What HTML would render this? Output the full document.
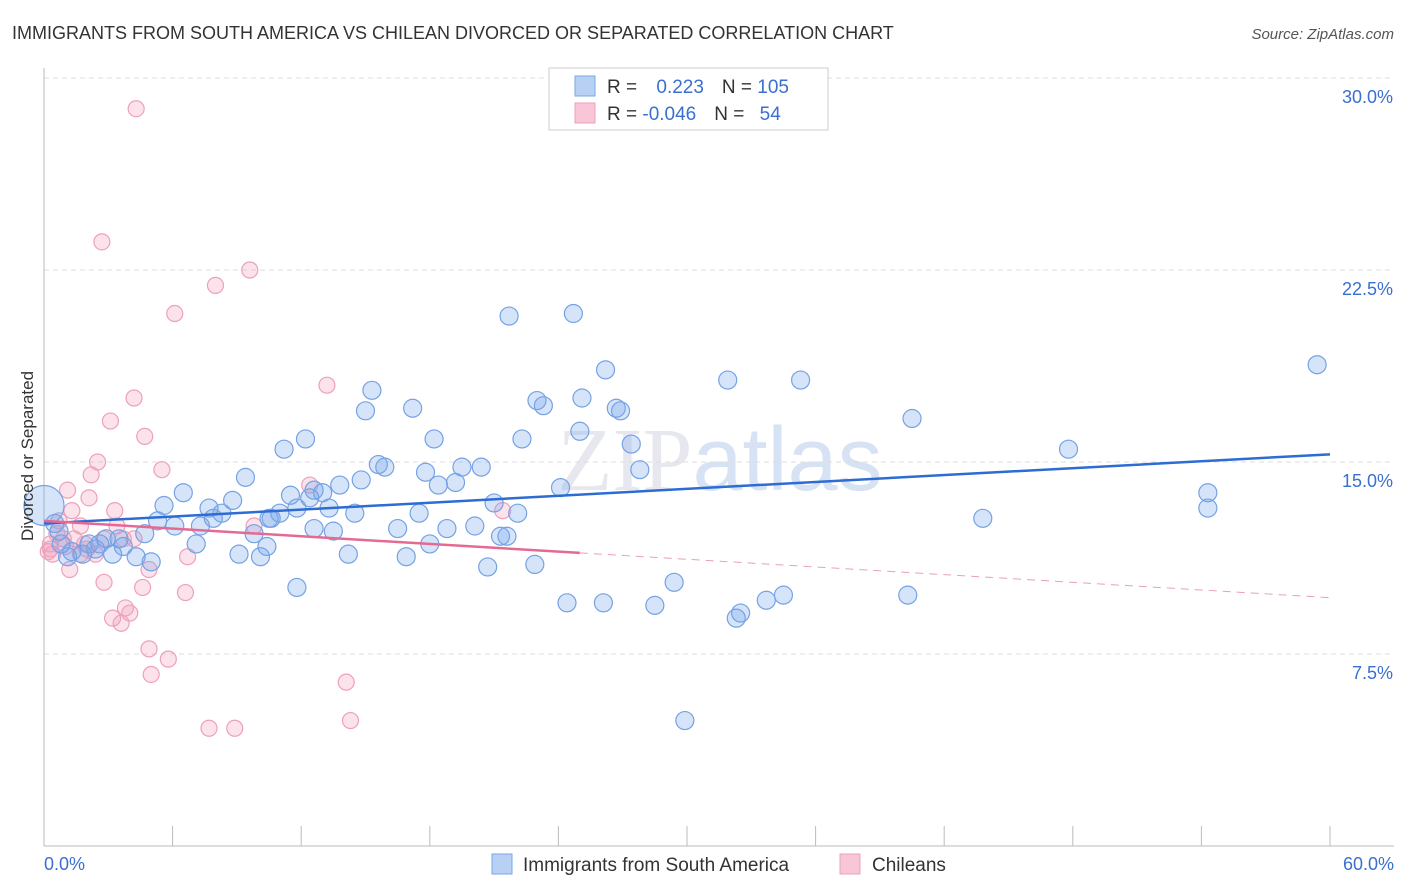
<!DOCTYPE html>
<html><head><meta charset="utf-8"><style>
body{margin:0;background:#fff;font-family:"Liberation Sans",sans-serif;}
svg{display:block}
</style></head><body>
<svg id="chart" width="1406" height="892" xmlns="http://www.w3.org/2000/svg">
<text x="12" y="39" font-size="18" fill="#333">IMMIGRANTS FROM SOUTH AMERICA VS CHILEAN DIVORCED OR SEPARATED CORRELATION CHART</text>
<text x="1394" y="39" font-size="15" fill="#555" text-anchor="end" font-style="italic">Source: ZipAtlas.com</text>
<text x="720" y="490" font-size="90" fill="#ccd" opacity="0.45" text-anchor="middle" font-family="Liberation Serif">ZIP<tspan fill="#a8c0e8" font-family="Liberation Sans">atlas</tspan></text>
<g id="grid"></g>
<g id="axes"></g>
<g id="marks"></g>
<text transform="translate(33,456) rotate(-90)" font-size="17" fill="#333" text-anchor="middle">Divorced or Separated</text>
<g>
<rect x="549" y="68" width="279" height="62" fill="#fff" stroke="#ccc"/>
<rect x="575" y="76" width="20" height="20" fill="#b8d0f4" stroke="#7aa6e6"/>
<rect x="575" y="103" width="20" height="20" fill="#f8c6d6" stroke="#eea0bb"/>
<text x="607" y="93" font-size="19" fill="#333">R = <tspan fill="#3a6fd0" dx="14">0.223</tspan><tspan dx="18" fill="#333">N = </tspan><tspan fill="#3a6fd0">105</tspan></text>
<text x="607" y="120" font-size="19" fill="#333">R = <tspan fill="#3a6fd0">-0.046</tspan><tspan dx="18" fill="#333">N = </tspan><tspan fill="#3a6fd0" dx="10">54</tspan></text>
</g>
<g>
<rect x="492" y="854" width="20" height="20" fill="#b8d0f4" stroke="#7aa6e6"/>
<text x="523" y="871" font-size="19" fill="#333">Immigrants from South America</text>
<rect x="840" y="854" width="20" height="20" fill="#f8c6d6" stroke="#eea0bb"/>
<text x="872" y="871" font-size="19" fill="#333">Chileans</text>
</g>
</svg>
<script>
const blueX=[21.7,24.7,26.2,31.9,35.3,59.4,40.5,47.8,54.3,54.3,43.8,40.3,34.5,33.7,32.5,32.3,29.4,28.5,26.1,24.4,22.9,20.7,29.9,15.3,15.0,17.2,23.0,23.3,25.1,26.7,26.9,27.4,27.8,25.0,22.3,18.2,19.5,19.2,17.8,18.4,20.4,21.0,22.1,21.3,21.6,20.1,18.8,18.0,17.5,16.5,16.9,15.6,15.9,14.8,13.8,14.5,13.5,14.2,12.2,11.2,9.4,8.8,8.3,7.7,7.9,7.3,7.1,6.5,5.6,6.1,5.3,4.7,4.3,5.0,3.7,3.5,2.9,3.2,2.4,1.8,1.3,1.1,0.8,0.5,0.7,2.1,2.6,9.1,10.1,10.4,9.8,10.6,11.0,11.5,11.8,12.4,13.0,13.3,12.6,24.1,11.8,12.6,10.5,0.0];
const blueY=[20.7,20.8,18.6,18.2,18.2,18.8,16.7,15.5,13.2,13.8,12.8,9.8,9.8,9.6,9.1,8.9,10.3,9.4,9.5,9.5,11.0,10.9,4.9,17.8,17.0,17.1,17.4,17.2,17.5,17.1,17.0,15.7,14.7,16.2,15.9,15.9,14.8,14.2,14.6,14.1,14.8,13.4,13.0,12.1,12.1,12.5,12.4,11.8,13.0,12.4,11.3,14.9,14.8,14.3,14.1,13.0,12.3,11.4,15.9,15.5,14.4,13.5,13.0,13.2,12.8,12.5,11.8,13.8,13.3,12.5,12.7,12.2,11.3,11.1,11.7,12.0,12.0,11.4,11.6,11.4,11.5,11.3,11.8,12.6,12.3,11.8,11.8,11.4,11.3,11.7,12.2,12.8,13.0,13.7,13.2,13.6,13.8,13.2,12.4,14.0,10.1,13.9,12.8,13.3];
const pinkX=[4.3,2.7,9.6,8.0,6.1,13.2,4.2,3.1,4.7,2.5,5.5,2.2,1.1,2.1,3.3,1.3,0.7,1.7,3.4,0.6,0.3,0.4,0.9,1.4,1.9,2.8,3.7,4.2,2.4,1.7,1.2,2.8,4.6,4.9,6.7,6.6,3.8,4.0,3.2,3.6,4.9,5.8,5.0,14.1,14.3,7.7,8.9,12.4,9.8,21.4,0.2,0.3,1.0,2.0];
const pinkY=[28.8,23.6,22.5,21.9,20.8,18.0,17.5,16.6,16.0,15.0,14.7,14.5,13.9,13.6,13.1,13.1,12.7,12.5,12.5,12.2,11.8,11.4,12.0,12.0,11.8,12.0,12.0,12.0,11.4,11.4,10.8,10.3,10.1,10.8,11.3,9.9,9.3,9.1,8.9,8.7,7.7,7.3,6.7,6.4,4.9,4.6,4.6,14.1,12.5,13.1,11.5,11.6,11.7,11.6];
const blueTrend=[12.6,15.3];
const pinkTrend=[12.7,9.7];
const pinkSolidEnd=25;
const yTicks=[7.5,15.0,22.5,30.0];
const xTickLabels=["0.0%","60.0%"];
const NS="http://www.w3.org/2000/svg";
const X0=44,X1=1330,Y0=846;
const sx=v=>X0+(v/60)*(X1-X0);
const sy=v=>Y0-v/7.5*192;
function mk(tag,attrs,parent){const e=document.createElementNS(NS,tag);for(const k in attrs)e.setAttribute(k,attrs[k]);parent.appendChild(e);return e;}
const grid=document.getElementById('grid'),axes=document.getElementById('axes'),marks=document.getElementById('marks');
yTicks.forEach(t=>{
 const l=mk('line',{x1:X0,x2:1394,y1:sy(t),y2:sy(t),stroke:'#ddd','stroke-dasharray':'5,4'},grid);
 
 
 const tx=mk('text',{x:1393,y:sy(t)+25,'font-size':18,fill:'#3a6fd0','text-anchor':'end'},axes);
 tx.textContent=t.toFixed(1)+'%';
 
 
});
let ax=mk('line',{x1:X0,x2:X0,y1:68,y2:Y0,stroke:'#bbb'},axes);


ax=mk('line',{x1:X0,x2:1394,y1:Y0,y2:Y0,stroke:'#bbb'},axes);


for(let i=0;i<=60;i+=6){const t=mk('line',{x1:sx(i),x2:sx(i),y1:826,y2:Y0,stroke:'#bbb'},axes);
 
 }
[[0,'start',44],[60,'end',1394]].forEach((d,i)=>{const t=mk('text',{x:d[2],y:870,'font-size':18,fill:'#3a6fd0','text-anchor':d[1]},axes);t.textContent=xTickLabels[i];
 
 });
pinkX.forEach((x,i)=>{const c=mk('circle',{cx:sx(x),cy:sy(pinkY[i]),r:8,fill:'rgba(243,160,190,0.3)',stroke:'#eea0bb','stroke-width':1.2},marks);
 
 });
blueX.forEach((x,i)=>{const big=i===blueX.length-1;const c=mk('circle',{cx:sx(x),cy:sy(blueY[i]),r:big?20:9,fill:'rgba(120,165,235,0.3)',stroke:'#74a2e4','stroke-width':1.2},marks);
 
 });
let l=mk('line',{x1:sx(0),y1:sy(blueTrend[0]),x2:sx(60),y2:sy(blueTrend[1]),stroke:'#2d6cd3','stroke-width':2.5},marks);


const py=v=>pinkTrend[0]+(pinkTrend[1]-pinkTrend[0])*v/60;
l=mk('line',{x1:sx(0),y1:sy(py(0)),x2:sx(pinkSolidEnd),y2:sy(py(pinkSolidEnd)),stroke:'#e46a96','stroke-width':2.5},marks);


l=mk('line',{x1:sx(pinkSolidEnd),y1:sy(py(pinkSolidEnd)),x2:sx(60),y2:sy(py(60)),stroke:'#e8a0ba','stroke-width':1,'stroke-dasharray':'8,6'},marks);


</script>
</body></html>
